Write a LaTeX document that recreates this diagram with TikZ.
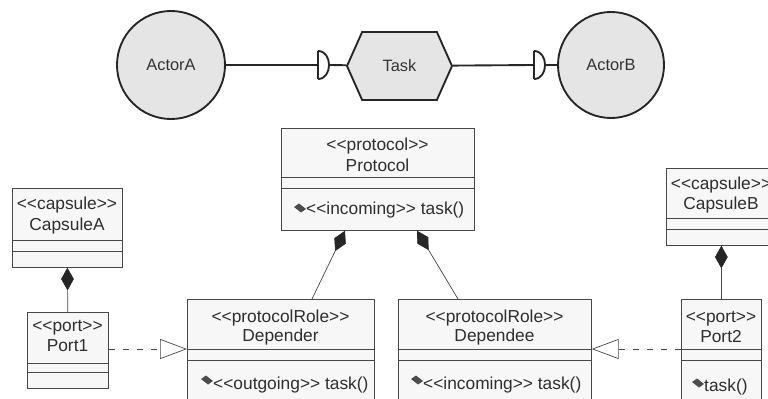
\documentclass[tikz,border=0pt]{standalone}
\usepackage{fontspec}
\setmainfont{Liberation Sans}
\usetikzlibrary{shapes.symbols,arrows.meta,calc}

\begin{document}
\begin{tikzpicture}[x=0.03cm,y=-0.03cm]
        \tikzset{
          actor/.style={circle,draw=black!85,line width=1.6pt,fill=black!10,inner sep=0mm,
            text=black!80,font=\fontsize{14}{16}\selectfont},
          taskshape/.style={signal,signal to=east and west,signal pointer angle=132,
            draw=black!85,line width=1.6pt,fill=black!10,inner sep=0mm,
            minimum width=3.15cm,minimum height=2.04cm,
            text=black!80,font=\fontsize{14}{16}\selectfont},
          box/.style 2 args={draw=black!72,line width=0.6pt,fill=black!3,inner sep=0mm,
            anchor=north west,minimum width=#1*0.03cm,minimum height=#2*0.03cm},
          txt/.style={inner sep=0mm,text=black!82,font=\fontsize{14.8}{17}\selectfont},
          op/.style={txt,anchor=west},
          sep/.style={draw=black!72,line width=0.6pt},
          comp/.style={draw=black!72,line width=0.6pt,
            {Diamond[length=0.68cm,width=0.38cm,color=black!85,fill=black!85]}-},
          real/.style={draw=black!72,line width=0.6pt,dash pattern=on 5pt off 7pt,
            -{Triangle[open,length=0.81cm,width=0.6cm]}},
          pics/opmark/.style={code={
            \fill[black!70] (-6,-1) -- (-1,-4.5) -- (6,1) -- (1,4.5) -- cycle;
            },
          }
        }
        \useasboundingbox (0,0) rectangle (768,399);
        \clip (0,0) rectangle (768,399);

        %ACTORS AND TASK
        \node[actor,minimum size=3.24cm] (actA) at (171,65) {ActorA};
        \node[actor,minimum size=3.18cm] (actB) at (611,65) {ActorB};
        \node[taskshape] (task) at (399.5,66) {Task};
        \coordinate (sockA) at (318,65);
        \coordinate (sockAend) at (329,65);
        \coordinate (sockB) at (534,65);
        \coordinate (sockBend) at (545,65);
        \draw[black!85,line width=1.6pt] (actA) -- (sockA);
        \draw[black!85,line width=1.6pt] (sockAend) -- (task);
        \draw[black!85,line width=1.6pt] (task) -- (sockB);
        \draw[black!85,line width=1.6pt] (sockBend) -- (actB);
        %SOCKETS
        \foreach \sx in {318,534}{
          \draw[black!85,line width=1.6pt] (\sx,51) -- (\sx,79)
            (\sx,51) .. controls (\sx+14.7,51) and (\sx+14.7,79) .. (\sx,79);
        }

        %PROTOCOL
        \node[box={193}{102}] (protocol) at (281,128) {};
        \node[txt] (protoStereo) at (377.5,146) {<{}<protocol>{}>};
        \node[txt] (protoName) at (377.5,165) {Protocol};
        \path (300,208) pic {opmark};
        \node[op] (protoOp) at (306,210) {<{}<incoming>{}> task()};

        %ROLES
        \node[box={187}{120}] (depender) at (187,299) {};
        \node[txt] (derStereo) at (280.5,318) {<{}<protocolRole>{}>};
        \node[txt] (derName) at (280.5,337) {Depender};
        \path (207,380) pic {opmark};
        \node[op] (derOp) at (213,385) {<{}<outgoing>{}> task()};

        \node[box={193}{120}] (dependee) at (398,299) {};
        \node[txt] (deeStereo) at (494.5,318) {<{}<protocolRole>{}>};
        \node[txt] (deeName) at (494.5,337) {Dependee};
        \path (417,380) pic {opmark};
        \node[op] (deeOp) at (423,385) {<{}<incoming>{}> task()};

        %CAPSULES AND PORTS
        \node[box={110}{79}] (capA) at (12,188) {};
        \node[txt] (capAStereo) at (67,205) {<{}<capsule>{}>};
        \node[txt] (capAName) at (67,226) {CapsuleA};
        \node[box={81}{76}] (port1) at (27,312) {};
        \node[txt] (p1Stereo) at (67.5,328) {<{}<port>{}>};
        \node[txt] (p1Name) at (67.5,346) {Port1};

        \node[box={110}{77}] (capB) at (666,168) {};
        \node[txt] (capBStereo) at (721,185) {<{}<capsule>{}>};
        \node[txt] (capBName) at (721,205) {CapsuleB};
        \node[box={80}{120}] (port2) at (681,299) {};
        \node[txt] (p2Stereo) at (721,319) {<{}<port>{}>};
        \node[txt] (p2Name) at (721,337) {Port2};
        \path (698,383) pic {opmark};
        \node[op] (p2Op) at (704,387) {task()};

        %COMPARTMENTS
        \foreach \xa/\xb/\yy in {281/474/177,281/474/188,187/374/349,187/374/360,
            398/591/349,398/591/360,12/122/240,12/122/251,27/108/363,27/108/372,
            666/776/218,666/776/229,681/761/349,681/761/360}{
          \draw[sep] (\xa,\yy) -- (\xb,\yy);
        }

        %LINKS
        \draw[comp] ($(protocol.south west)+(64,0)$) -- ($(depender.north west)+(125,0)$);
        \draw[comp] ($(protocol.south west)+(136,0)$) -- ($(dependee.north west)+(60,0)$);
        \draw[comp] (capA.south) -- (port1.north);
        \draw[comp] (capB.south) -- (port2.north);
        \draw[real] ($(port1.north east)+(0,37)$) -- ($(depender.north west)+(0,50)$);
        \draw[real] ($(port2.north west)+(0,50)$) -- ($(dependee.north east)+(0,50)$);
    \end{tikzpicture}
\end{document}
